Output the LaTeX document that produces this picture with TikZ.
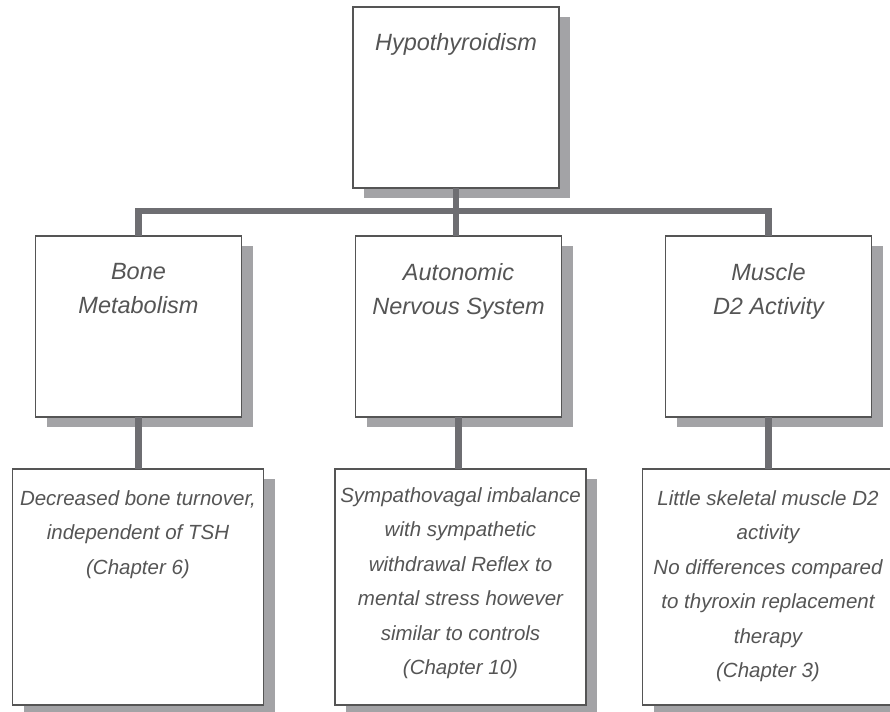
\documentclass[tikz,border=0pt]{standalone}
\usepackage{fontspec}
\setmainfont{Liberation Sans}
\usetikzlibrary{shadows}
\definecolor{boxline}{HTML}{555555}
\definecolor{shadowc}{HTML}{A3A3A6}
\definecolor{connc}{HTML}{6E6E72}
\definecolor{textc}{HTML}{555555}
\begin{document}
\begin{tikzpicture}[x=1pt,y=-1pt,
  card/.style={draw=boxline, line width=1.3pt, fill=white, inner sep=0pt, outer sep=0pt,
    drop shadow={shadow xshift=11pt, shadow yshift=-10pt, fill=shadowc, opacity=1}},
  headbox/.style={card, minimum width=206pt, minimum height=181pt},
  detailbox/.style={card, minimum width=251pt, minimum height=236pt},
  headtext/.style={anchor=north, inner sep=0pt, align=center, text=textc,
    font=\fontsize{23.5}{34}\selectfont\itshape},
  bodytext/.style={anchor=north, inner sep=0pt, align=center, text=textc,
    font=\fontsize{20.5}{34.5}\selectfont\itshape},
  conn/.style={draw=connc, line width=6.5pt, line join=miter, line cap=rect}]
\useasboundingbox (0,0) rectangle (890,711);
% boxes
\node[headbox] (top) at (456,97.5) {};
\node[headbox] (bone) at (138.5,326.5) {};
\node[headbox] (ans) at (458.5,326.5) {};
\node[headbox] (mus) at (768.5,326.5) {};
\node[detailbox] (boned) at (138,587) {};
\node[detailbox] (ansd) at (460.5,587) {};
\node[detailbox] (musd) at (768,587) {};
% connectors
\coordinate (bar) at (456,211);
\draw[conn, line cap=butt] (top.south) -- (top.south |- ans.north);
\draw[conn, line cap=butt] (bone.north) |- (bar) -| (mus.north);
\draw[conn, line cap=butt] (bone.south) -- (bone.south |- boned.north);
\draw[conn, line cap=butt] (ans.south) -- (ans.south |- ansd.north);
\draw[conn, line cap=butt] (mus.south) -- (mus.south |- musd.north);
% texts
\node[headtext] (toptext) at ([yshift=-26pt]top.north) {Hypothyroidism};
\node[headtext] (bonetext) at ([yshift=-27pt]bone.north) {Bone\\Metabolism};
\node[headtext] (anstext) at ([yshift=-27pt]ans.north) {Autonomic\\Nervous System};
\node[headtext] (mustext) at ([yshift=-27pt]mus.north) {Muscle\\D2 Activity};
\node[bodytext] (bonedtext) at ([yshift=-21pt]boned.north) {Decreased bone turnover,\\independent of TSH\\(Chapter 6)};
\node[bodytext] (ansdtext) at ([yshift=-18pt]ansd.north) {Sympathovagal imbalance\\with sympathetic\\withdrawal Reflex to\\mental stress however\\similar to controls\\(Chapter 10)};
\node[bodytext] (musdtext) at ([yshift=-21pt]musd.north) {Little skeletal muscle D2\\activity\\No differences compared\\to thyroxin replacement\\therapy\\(Chapter 3)};
\end{tikzpicture}
\end{document}
